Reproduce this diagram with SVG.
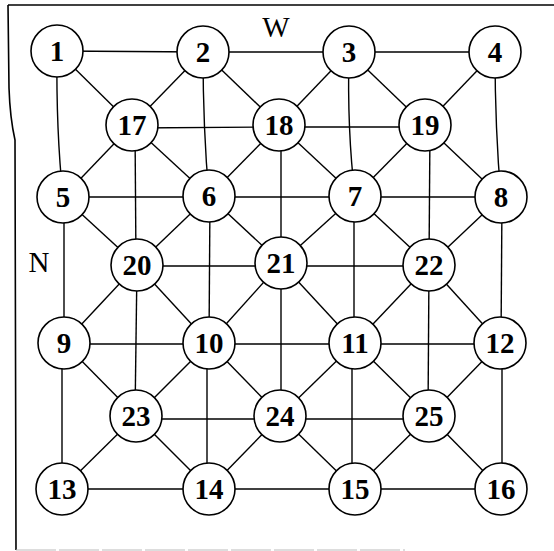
<svg xmlns="http://www.w3.org/2000/svg" width="554" height="551" viewBox="0 0 554 551">
<style>
.e{stroke:#000;stroke-width:1.4;fill:none}
.n circle{fill:#fff;stroke:#000;stroke-width:1.6}
.n text{font-family:"Liberation Serif","Times New Roman",serif;font-size:29px;font-weight:bold;text-anchor:middle;fill:#000}
.lbl{font-family:"Liberation Serif","Times New Roman",serif;font-size:29px;fill:#000;text-anchor:middle}
</style>
<rect width="554" height="551" fill="#fff"/>
<g id="frame" fill="none">
<path d="M8,5 H554" stroke="#000" stroke-width="1.6"/>
<path d="M8,5 L9,88 Q10,118 15,140 L16,550" stroke="#000" stroke-width="1.6"/>
<path d="M16,550 H405" stroke="#bbb" stroke-width="1.2" stroke-dasharray="40,3"/>
</g>
<g id="connectors" class="e">
<line x1="57" y1="51" x2="203" y2="52"/>
<line x1="203" y1="52" x2="349" y2="52"/>
<line x1="349" y1="52" x2="495" y2="52"/>
<line x1="57" y1="51" x2="132" y2="125"/>
<line x1="203" y1="52" x2="132" y2="125"/>
<line x1="203" y1="52" x2="279" y2="125"/>
<line x1="349" y1="52" x2="279" y2="125"/>
<line x1="349" y1="52" x2="425" y2="125"/>
<line x1="495" y1="52" x2="425" y2="125"/>
<path d="M57,51 Q56,130 63,197"/>
<path d="M203,52 Q203,130 209,196"/>
<path d="M349,52 Q347,130 355,196"/>
<path d="M495,52 Q495,130 501,197"/>
<line x1="132" y1="128" x2="279" y2="127"/>
<line x1="279" y1="127" x2="425" y2="127"/>
<line x1="132" y1="125" x2="63" y2="197"/>
<line x1="132" y1="125" x2="209" y2="196"/>
<line x1="279" y1="125" x2="209" y2="196"/>
<line x1="279" y1="125" x2="355" y2="196"/>
<line x1="425" y1="125" x2="355" y2="196"/>
<line x1="425" y1="125" x2="501" y2="197"/>
<line x1="135" y1="125" x2="136" y2="265"/>
<line x1="281" y1="125" x2="281" y2="263"/>
<line x1="430" y1="125" x2="429" y2="265"/>
<line x1="63" y1="197" x2="209" y2="197"/>
<line x1="209" y1="197" x2="355" y2="197"/>
<line x1="355" y1="197" x2="501" y2="197"/>
<line x1="63" y1="197" x2="137" y2="265"/>
<line x1="209" y1="196" x2="137" y2="265"/>
<line x1="209" y1="196" x2="281" y2="263"/>
<line x1="355" y1="196" x2="281" y2="263"/>
<line x1="355" y1="196" x2="429" y2="265"/>
<line x1="501" y1="197" x2="429" y2="265"/>
<line x1="64" y1="197" x2="64" y2="343"/>
<line x1="210" y1="196" x2="209" y2="343"/>
<line x1="354" y1="196" x2="354" y2="343"/>
<line x1="502" y1="197" x2="501" y2="343"/>
<line x1="137" y1="266" x2="281" y2="266"/>
<line x1="281" y1="266" x2="429" y2="266"/>
<line x1="137" y1="265" x2="64" y2="343"/>
<line x1="137" y1="265" x2="209" y2="343"/>
<line x1="281" y1="263" x2="209" y2="343"/>
<line x1="281" y1="263" x2="355" y2="343"/>
<line x1="429" y1="265" x2="355" y2="343"/>
<line x1="429" y1="265" x2="500" y2="343"/>
<line x1="137" y1="265" x2="135" y2="416"/>
<line x1="281" y1="263" x2="281" y2="416"/>
<line x1="429" y1="265" x2="428" y2="416"/>
<line x1="64" y1="344" x2="209" y2="344"/>
<line x1="209" y1="344" x2="355" y2="344"/>
<line x1="355" y1="344" x2="500" y2="344"/>
<line x1="64" y1="343" x2="136" y2="416"/>
<line x1="209" y1="343" x2="136" y2="416"/>
<line x1="209" y1="343" x2="280" y2="416"/>
<line x1="355" y1="343" x2="280" y2="416"/>
<line x1="355" y1="343" x2="429" y2="416"/>
<line x1="500" y1="343" x2="429" y2="416"/>
<line x1="62" y1="343" x2="62" y2="489"/>
<line x1="207" y1="343" x2="207" y2="489"/>
<line x1="352" y1="343" x2="352" y2="489"/>
<line x1="502" y1="343" x2="502" y2="489"/>
<line x1="136" y1="419" x2="280" y2="419"/>
<line x1="280" y1="419" x2="429" y2="419"/>
<line x1="136" y1="416" x2="62" y2="489"/>
<line x1="136" y1="416" x2="209" y2="489"/>
<line x1="280" y1="416" x2="209" y2="489"/>
<line x1="280" y1="416" x2="355" y2="489"/>
<line x1="429" y1="416" x2="355" y2="489"/>
<line x1="429" y1="416" x2="501" y2="489"/>
<line x1="62" y1="489" x2="209" y2="489"/>
<line x1="209" y1="489" x2="355" y2="489"/>
<line x1="355" y1="489" x2="501" y2="489"/>
</g>
<g id="n1" class="n"><circle cx="57" cy="51" r="26"/><text x="57" y="61">1</text></g>
<g id="n2" class="n"><circle cx="203" cy="52" r="26"/><text x="203" y="62">2</text></g>
<g id="n3" class="n"><circle cx="349" cy="52" r="26"/><text x="349" y="62">3</text></g>
<g id="n4" class="n"><circle cx="495" cy="52" r="26"/><text x="495" y="62">4</text></g>
<g id="n17" class="n"><circle cx="132" cy="125" r="26"/><text x="132" y="135">17</text></g>
<g id="n18" class="n"><circle cx="279" cy="125" r="26"/><text x="279" y="135">18</text></g>
<g id="n19" class="n"><circle cx="425" cy="125" r="26"/><text x="425" y="135">19</text></g>
<g id="n5" class="n"><circle cx="63" cy="197" r="26"/><text x="63" y="207">5</text></g>
<g id="n6" class="n"><circle cx="209" cy="196" r="26"/><text x="209" y="206">6</text></g>
<g id="n7" class="n"><circle cx="355" cy="196" r="26"/><text x="355" y="206">7</text></g>
<g id="n8" class="n"><circle cx="501" cy="197" r="26"/><text x="501" y="207">8</text></g>
<g id="n20" class="n"><circle cx="137" cy="265" r="26"/><text x="137" y="275">20</text></g>
<g id="n21" class="n"><circle cx="281" cy="263" r="26"/><text x="281" y="273">21</text></g>
<g id="n22" class="n"><circle cx="429" cy="265" r="26"/><text x="429" y="275">22</text></g>
<g id="n9" class="n"><circle cx="64" cy="343" r="26"/><text x="64" y="353">9</text></g>
<g id="n10" class="n"><circle cx="209" cy="343" r="26"/><text x="209" y="353">10</text></g>
<g id="n11" class="n"><circle cx="355" cy="343" r="26"/><text x="355" y="353">11</text></g>
<g id="n12" class="n"><circle cx="500" cy="343" r="26"/><text x="500" y="353">12</text></g>
<g id="n23" class="n"><circle cx="136" cy="416" r="26"/><text x="136" y="426">23</text></g>
<g id="n24" class="n"><circle cx="280" cy="416" r="26"/><text x="280" y="426">24</text></g>
<g id="n25" class="n"><circle cx="429" cy="416" r="26"/><text x="429" y="426">25</text></g>
<g id="n13" class="n"><circle cx="62" cy="489" r="26"/><text x="62" y="499">13</text></g>
<g id="n14" class="n"><circle cx="209" cy="489" r="26"/><text x="209" y="499">14</text></g>
<g id="n15" class="n"><circle cx="355" cy="489" r="26"/><text x="355" y="499">15</text></g>
<g id="n16" class="n"><circle cx="501" cy="489" r="26"/><text x="501" y="499">16</text></g>
<text class="lbl" x="276" y="37">W</text>
<text class="lbl" x="39" y="272">N</text>
</svg>
